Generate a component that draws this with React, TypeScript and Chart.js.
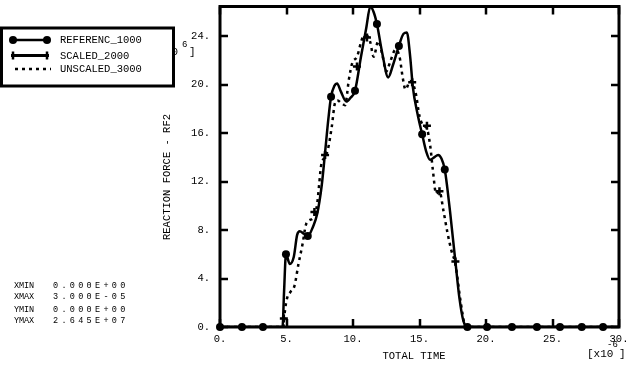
import { useEffect, useRef } from 'react';
import { Chart, registerables } from 'chart.js';

Chart.register(...registerables);

// ---- data (time in 1e-6, force in 1e6) ----
const refX = [0, 4.7, 4.82, 4.96, 5.25, 5.55, 5.8, 6.0, 6.3, 6.6, 7.0, 7.3, 7.65, 7.9, 8.15, 8.35, 8.6, 8.8, 9.1, 9.5, 9.8, 10.15, 10.6, 11.0, 11.3, 11.55, 11.8, 12.2, 12.65, 13.0, 13.45, 13.8, 14.05, 14.3, 14.5, 14.85, 15.2, 15.5, 15.8, 16.1, 16.4, 16.65, 16.9, 17.1, 17.3, 17.7, 18.0, 18.3, 18.6, 30];
const refY = [0, 0, 3.0, 6.0, 5.2, 5.8, 7.6, 7.9, 7.7, 7.5, 8.3, 9.3, 11.7, 14.4, 17.2, 19.0, 19.9, 20.1, 19.4, 18.6, 18.9, 19.5, 22.3, 24.7, 26.45, 26.0, 25.0, 22.6, 20.6, 21.6, 23.2, 24.2, 24.3, 22.3, 19.8, 17.6, 15.9, 14.5, 13.8, 14.0, 14.2, 13.9, 13.0, 11.4, 9.5, 5.4, 2.4, 0.5, 0, 0];

const refMarkX = [0, 1.65, 3.23, 4.96, 6.6, 8.35, 10.15, 11.8, 13.45, 15.2, 16.9, 18.6, 20.08, 21.95, 23.83, 25.56, 27.2, 28.8];
const refMarkY = [0, 0, 0, 6.0, 7.5, 19.0, 19.5, 25.0, 23.2, 15.9, 13.0, 0, 0, 0, 0, 0, 0, 0];

const sclX = [4.8, 7.1, 7.9, 10.3, 11.05, 14.45, 15.56, 16.5, 17.7];
const sclY = [0.7, 9.5, 14.2, 21.5, 23.9, 20.2, 16.6, 11.2, 5.4];

const unsX = [0, 4.75, 4.9, 5.05, 5.3, 5.6, 5.9, 6.2, 6.45, 6.7, 7.0, 7.3, 7.45, 7.6, 7.85, 8.1, 8.4, 8.65, 8.85, 9.1, 9.4, 9.7, 9.95, 10.3, 10.75, 11.1, 11.3, 11.55, 11.9, 12.2, 12.5, 12.8, 13.2, 13.5, 13.75, 13.95, 14.3, 14.7, 15.0, 15.3, 15.55, 15.8, 16.0, 16.25, 16.5, 16.8, 17.1, 17.4, 17.7, 18.0, 18.25, 18.45, 30];
const unsY = [0, 0, 1.5, 2.4, 2.9, 3.4, 5.2, 6.8, 8.4, 8.8, 9.0, 10.1, 11.7, 13.3, 14.0, 14.6, 16.5, 18.5, 18.7, 18.5, 18.3, 20.5, 21.8, 22.3, 23.9, 24.0, 23.5, 22.3, 23.6, 22.5, 21.1, 21.9, 22.9, 22.3, 20.5, 19.6, 20.3, 19.4, 17.4, 16.6, 16.4, 15.0, 13.0, 11.0, 11.2, 9.6, 7.8, 6.3, 5.2, 2.8, 1.0, 0, 0];

const xTicks = [0, 5, 10, 15, 20, 25, 30];
const yTicks = [0, 4, 8, 12, 16, 20, 24];
const X_MAX = 30;
const Y_MAX = 26.45;

const legendNames = ['REFERENC_1000', 'SCALED_2000', 'UNSCALED_3000'];
const infoLabels = ['XMIN', 'XMAX', 'YMIN', 'YMAX'];
const infoValues = ['0.000E+00', '3.000E-05', '0.000E+00', '2.645E+07'];
const xTitle = 'TOTAL TIME';
const yTitle = 'REACTION FORCE - RF2';

const FONT = '"Liberation Mono", "DejaVu Sans Mono", monospace';

const pts = (xs: number[], ys: number[]) => xs.map((x, i) => ({ x, y: ys[i] }));

const decor = {
  id: 'decor',
  beforeDatasetsDraw(chart: any) {
    const ctx = chart.ctx;
    const { left, right, top, bottom } = chart.chartArea;
    const xs = chart.scales.x;
    const ys = chart.scales.y;
    ctx.save();
    ctx.strokeStyle = '#000';
    ctx.lineWidth = 2.5;
    ctx.beginPath();
    xTicks.forEach((v) => {
      const px = Math.round(xs.getPixelForValue(v));
      ctx.moveTo(px, bottom);
      ctx.lineTo(px, bottom - 8);
      ctx.moveTo(px, top);
      ctx.lineTo(px, top + 8);
    });
    yTicks.forEach((v) => {
      const py = Math.round(ys.getPixelForValue(v));
      ctx.moveTo(left, py);
      ctx.lineTo(left + 8, py);
      ctx.moveTo(right, py);
      ctx.lineTo(right - 8, py);
    });
    ctx.stroke();
    ctx.lineWidth = 3;
    ctx.strokeRect(left, top, right - left, bottom - top);
    ctx.restore();
  },
  afterDraw(chart: any) {
    const ctx = chart.ctx;
    ctx.save();
    ctx.fillStyle = '#000';
    ctx.strokeStyle = '#000';
    ctx.textBaseline = 'middle';

    // axis titles
    ctx.font = `10.5px ${FONT}`;
    ctx.textAlign = 'center';
    ctx.fillText(xTitle, 414, 356);
    ctx.save();
    ctx.translate(167, 177);
    ctx.rotate(-Math.PI / 2);
    ctx.fillText(yTitle, 0, 0);
    ctx.restore();

    // x multiplier
    ctx.textAlign = 'left';
    ctx.font = `11px ${FONT}`;
    ctx.fillText('[x10', 587, 354);
    ctx.font = `9px ${FONT}`;
    ctx.fillText('-6', 607, 345);
    ctx.font = `11px ${FONT}`;
    ctx.fillText(']', 619, 354);

    // y multiplier (mostly hidden by legend)
    ctx.textAlign = 'right';
    ctx.fillText('[x10', 178, 52);
    ctx.textAlign = 'left';
    ctx.font = `9px ${FONT}`;
    ctx.fillText('6', 182, 45);
    ctx.font = `11px ${FONT}`;
    ctx.fillText(']', 189, 52);

    // info text
    ctx.font = `8.5px ${FONT}`;
    const rowsY = [286, 297, 310, 320.5];
    infoLabels.forEach((lab, i) => {
      for (let k = 0; k < lab.length; k++) ctx.fillText(lab[k], 14 + k * 5, rowsY[i]);
      const val = infoValues[i];
      for (let k = 0; k < val.length; k++) ctx.fillText(val[k], 53 + k * 8.4, rowsY[i]);
    });

    // legend
    ctx.fillStyle = '#fff';
    ctx.fillRect(0, 27, 174, 60);
    ctx.lineWidth = 3;
    ctx.strokeRect(1.5, 28, 172, 58);
    ctx.fillStyle = '#000';
    const ly = [40, 55.5, 69];
    // row 1
    ctx.lineWidth = 2.5;
    ctx.beginPath();
    ctx.moveTo(13, ly[0]);
    ctx.lineTo(47, ly[0]);
    ctx.stroke();
    [13, 47].forEach((cx) => {
      ctx.beginPath();
      ctx.arc(cx, ly[0], 4, 0, Math.PI * 2);
      ctx.fill();
    });
    // row 2
    ctx.lineWidth = 3;
    ctx.beginPath();
    ctx.moveTo(11, ly[1]);
    ctx.lineTo(49, ly[1]);
    ctx.stroke();
    ctx.lineWidth = 2.5;
    ctx.beginPath();
    [13, 47].forEach((cx) => {
      ctx.moveTo(cx, ly[1] - 4);
      ctx.lineTo(cx, ly[1] + 4);
    });
    ctx.stroke();
    // row 3
    ctx.lineWidth = 2.5;
    ctx.setLineDash([3, 4]);
    ctx.beginPath();
    ctx.moveTo(15, ly[2]);
    ctx.lineTo(51, ly[2]);
    ctx.stroke();
    ctx.setLineDash([]);
    ctx.font = `10.5px ${FONT}`;
    ctx.textAlign = 'left';
    legendNames.forEach((n, i) => ctx.fillText(n, 60, ly[i] + 0.5));
    ctx.restore();
  },
};

export default function App() {
  const ref = useRef<HTMLCanvasElement | null>(null);
  useEffect(() => {
    if (!ref.current) return;
    Chart.defaults.font.family = FONT;
    Chart.defaults.font.size = 10.5;
    Chart.defaults.color = '#000';
    const chart = new Chart(ref.current, {
      type: 'line',
      data: {
        datasets: [
          {
            label: legendNames[0] + ' markers',
            data: pts(refMarkX, refMarkY),
            showLine: false,
            pointRadius: 4,
            pointStyle: 'circle',
            pointBackgroundColor: '#000',
            pointBorderColor: '#000',
            pointBorderWidth: 0,
            clip: false as any,
          },
          {
            label: legendNames[0],
            data: pts(refX, refY),
            borderColor: '#000',
            borderWidth: 2.5,
            pointRadius: 0,
            cubicInterpolationMode: 'monotone',
            fill: false,
          },
          {
            label: legendNames[1],
            data: pts(sclX, sclY),
            showLine: false,
            pointStyle: 'cross',
            pointRadius: 4,
            pointBorderColor: '#000',
            pointBorderWidth: 2.5,
            clip: false as any,
          },
          {
            label: legendNames[2],
            data: pts(unsX, unsY),
            borderColor: '#000',
            borderWidth: 2.5,
            borderDash: [3, 4],
            pointRadius: 0,
            cubicInterpolationMode: 'monotone',
            fill: false,
          },
        ],
      },
      options: {
        responsive: false,
        animation: false,
        devicePixelRatio: 1,
        layout: { padding: { top: 2, right: 11, left: 0, bottom: 0 } },
        plugins: { legend: { display: false }, tooltip: { enabled: false } },
        events: [],
        scales: {
          x: {
            type: 'linear',
            min: 0,
            max: X_MAX,
            grid: { display: false, drawTicks: false },
            border: { display: false },
            ticks: { padding: 6, autoSkip: false, maxRotation: 0, callback: (v: any) => `${v}.` },
            afterBuildTicks: (s: any) => {
              s.ticks = xTicks.map((value) => ({ value }));
            },
            afterFit: (s: any) => {
              s.height = 43;
              s.paddingLeft = 0;
              s.paddingRight = 0;
            },
          },
          y: {
            type: 'linear',
            min: 0,
            max: Y_MAX,
            grid: { display: false, drawTicks: false },
            border: { display: false },
            ticks: { padding: 10, autoSkip: false, callback: (v: any) => `${v}.` },
            afterBuildTicks: (s: any) => {
              s.ticks = yTicks.map((value) => ({ value }));
            },
            afterFit: (s: any) => {
              s.width = 220;
              s.paddingTop = 0;
              s.paddingBottom = 0;
            },
          },
        },
      },
      plugins: [decor],
    } as any);
    return () => chart.destroy();
  }, []);
  return (
    <div style={{ position: 'fixed', left: 0, top: 0, width: 630, height: 370, background: '#fff' }}>
      <canvas ref={ref} width={630} height={370} style={{ display: 'block' }} />
    </div>
  );
}
